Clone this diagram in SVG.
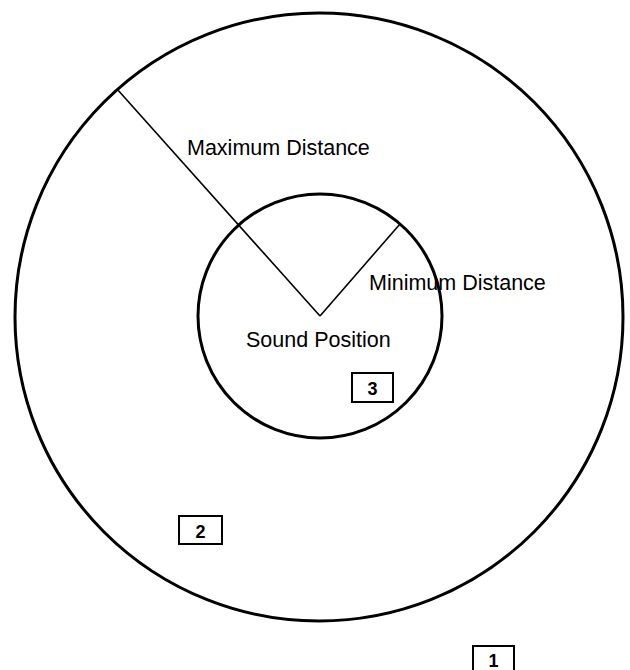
<svg xmlns="http://www.w3.org/2000/svg" width="630" height="670" viewBox="0 0 630 670">
<style>
.ring{fill:none;stroke:#000;stroke-width:3}
.ray{stroke:#000;stroke-width:1.6;fill:none}
.lbl{font-family:"Liberation Sans",Arial,sans-serif;font-size:21.5px;fill:#000}
.box{fill:#fff;stroke:#000;stroke-width:2}
.num{font-family:"Liberation Sans",Arial,sans-serif;font-size:18px;font-weight:bold;fill:#000;text-anchor:middle}
</style>
<rect width="630" height="670" fill="#fff"/>
<g id="outer-circle"><circle class="ring" cx="319" cy="317" r="304"/></g>
<g id="inner-circle"><circle class="ring" cx="320" cy="316" r="122"/></g>
<g id="connectors">
<line class="ray" x1="320" y1="316" x2="117" y2="89"/>
<line class="ray" x1="320" y1="316" x2="400" y2="224"/>
</g>
<g id="max-label"><text class="lbl" x="187" y="155">Maximum Distance</text></g>
<g id="min-label"><text class="lbl" x="369" y="290">Minimum Distance</text></g>
<g id="sound-position"><text class="lbl" x="246" y="347">Sound Position</text></g>
<g id="box3"><rect class="box" x="352" y="373" width="41" height="29"/><text class="num" x="372.5" y="395">3</text></g>
<g id="box2"><rect class="box" x="179" y="516" width="43" height="28"/><text class="num" x="200.5" y="538">2</text></g>
<g id="box1"><rect class="box" x="473" y="646" width="41" height="30"/><text class="num" x="493.5" y="667">1</text></g>
</svg>
